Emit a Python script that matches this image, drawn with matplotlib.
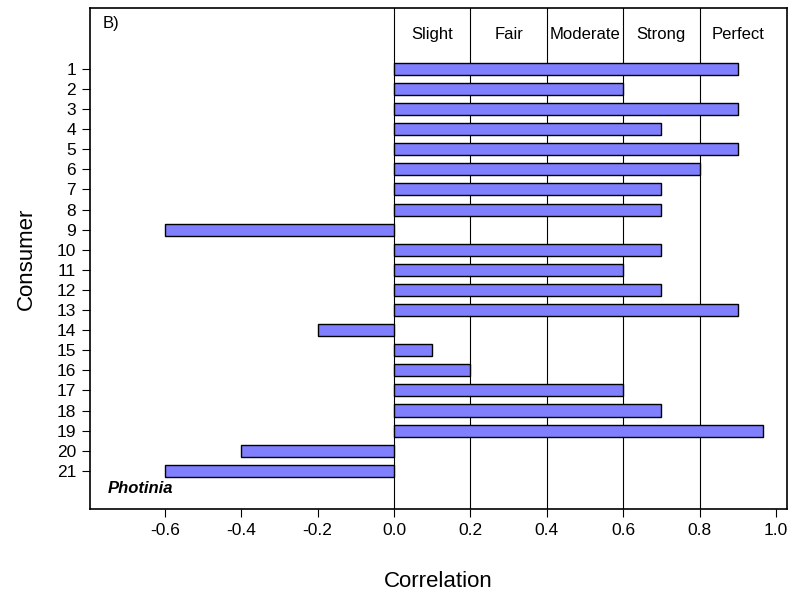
import numpy as np
import matplotlib.pyplot as plt

plt.rcParams['font.family'] = ['Liberation Sans', 'DejaVu Sans']

consumers = list(range(1, 22))
correlation = [0.9, 0.6, 0.9, 0.7, 0.9, 0.8, 0.7, 0.7, -0.6, 0.7,
               0.6, 0.7, 0.9, -0.2, 0.1, 0.2, 0.6, 0.7, 0.965, -0.4, -0.6]
band_labels = ['Slight', 'Fair', 'Moderate', 'Strong', 'Perfect']
band_edges = [0.0, 0.2, 0.4, 0.6, 0.8, 1.0]
x_ticks = [-0.6, -0.4, -0.2, 0.0, 0.2, 0.4, 0.6, 0.8, 1.0]

fig = plt.figure(figsize=(7.92, 5.92), dpi=100)
ax = fig.add_axes([90 / 792, 1 - 509 / 592, 697 / 792, 501 / 592])

ax.barh(consumers, correlation, height=0.6, color='#8080ff',
        edgecolor='black', linewidth=1.0, zorder=3)

# agreement bands
for e in band_edges[:-1]:
    ax.axvline(e, color='black', linewidth=0.8, zorder=1)
for i, lab in enumerate(band_labels):
    mid = (band_edges[i] + band_edges[i + 1]) / 2
    ax.text(mid, -0.7, lab, ha='center', va='center', fontsize=12)

ax.set_xlim(-0.796, 1.029)
ax.set_ylim(22.9, -2.03)
ax.set_xticks(x_ticks)
ax.set_xticklabels([f'{t:.1f}' for t in x_ticks])
ax.set_yticks(consumers)
ax.set_yticklabels([str(c) for c in consumers])
ax.tick_params(labelsize=12.5, direction='out', length=6, pad=4)

ax.set_xlabel('Correlation', fontsize=16, labelpad=24)
ax.set_ylabel('Consumer', fontsize=16, labelpad=14)

ax.text(0.018, 0.985, 'B)', transform=ax.transAxes, ha='left', va='top', fontsize=12)
ax.text(0.026, 0.04, 'Photinia', transform=ax.transAxes, ha='left', va='center',
        fontsize=12, fontweight='bold', fontstyle='italic')

for s in ax.spines.values():
    s.set_linewidth(1.2)

fig.savefig('out.png', dpi=100)
